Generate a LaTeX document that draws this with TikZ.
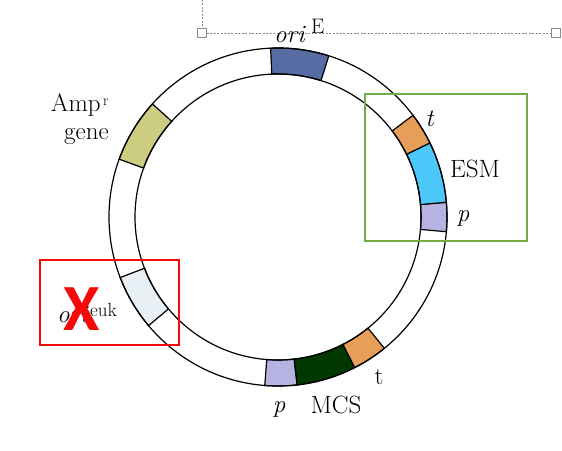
\documentclass[tikz,border=0pt]{standalone}
\usepackage{fontspec}
\newfontfamily\crossfont{Carlito}
\usetikzlibrary{positioning}
\definecolor{oriblue}{RGB}{88,108,164}
\definecolor{olive}{RGB}{205,205,130}
\definecolor{paleblue}{RGB}{232,240,245}
\definecolor{lavender}{RGB}{182,178,226}
\definecolor{esmcyan}{RGB}{77,200,250}
\definecolor{termorange}{RGB}{230,158,88}
\definecolor{mcsgreen}{RGB}{0,56,0}
\definecolor{boxgreen}{RGB}{112,173,71}
\definecolor{boxred}{RGB}{245,10,10}
\definecolor{handlegray}{RGB}{140,140,140}
\tikzset{
  seg/.style={fill=#1,draw=black,line width=1.2pt},
  lbl/.style={font=\fontsize{25}{29}\selectfont,inner sep=0pt,anchor=base},
  suplbl/.style={font=\fontsize{#1}{#1}\selectfont,inner sep=0pt,anchor=base west},
  suplbl/.default=17,
  frame/.style={draw=#1,line width=1.2pt},
  handle/.style={draw=handlegray,fill=white,line width=0.6pt,minimum size=9pt,inner sep=0pt},
  guide/.style={draw=handlegray,dash pattern=on 2pt off 1.5pt,line width=0.6pt},
}
\begin{document}
\begin{tikzpicture}[x=1pt,y=1pt]
  \useasboundingbox (0,0) rectangle (562,450);
  % selection guides
  \node[handle] (hl) at (202,417) {};
  \node[handle] (hr) at (556,417) {};
  \coordinate (htop) at (202,450);
  \draw[guide] (htop) -- (hl.north);
  \draw[guide] (hl.east) -- (hr.west);
  % plasmid ring
  \begin{scope}[shift={(278,233)}]
    \foreach \a/\b/\c in {72.5/92.5/oriblue, 138/160/olive, 201/220/paleblue,
        265.5/276.5/lavender, 276.5/297/mcsgreen, 297/309/termorange,
        -5/5/lavender, 5/26/esmcyan, 26/37/termorange}
      \filldraw[seg=\c] (\a:169pt) arc[start angle=\a,end angle=\b,radius=169pt]
        -- (\b:143pt) arc[start angle=\b,end angle=\a,radius=143pt] -- cycle;
    \draw[line width=1.2pt] (0,0) circle[radius=169pt] (0,0) circle[radius=143pt];
  \end{scope}
  % boxes
  \draw[frame=boxgreen] (365,209) rectangle (527,356);
  \draw[frame=boxred] (40,105) rectangle (179,190);
  % labels
  \node[lbl] (ori) at (290,407) {\textit{ori}};
  \node[suplbl=21] (oriE) at (311,416) {E};
  \node[lbl,anchor=base west] (amp) at (51,338) {Amp};
  \node[suplbl=15] (ampr) at (amp.base east) [yshift=6pt,xshift=2pt] {r};
  \node[lbl,anchor=base west] (gene) at (64,310) {gene};
  \node[lbl] (tright) at (430,323) {\textit{t}};
  \node[lbl] (esm) at (475,272) {ESM};
  \node[lbl] (pright) at (463,228) {\textit{p}};
  \node[lbl] (pbottom) at (279,38) {\textit{p}};
  \node[lbl] (mcs) at (336,37) {MCS};
  \node[lbl] (tbottom) at (379,66) {t};
  \node[lbl,anchor=base west] (orieuk) at (57,127) {\textit{ori}};
  \node[suplbl=19] (euk) at (90,133) {euk};
  \node[font=\crossfont\bfseries\fontsize{66}{66}\selectfont,text=boxred,inner sep=0pt,anchor=base] (cross) at (82,120) {X};
\end{tikzpicture}
\end{document}
